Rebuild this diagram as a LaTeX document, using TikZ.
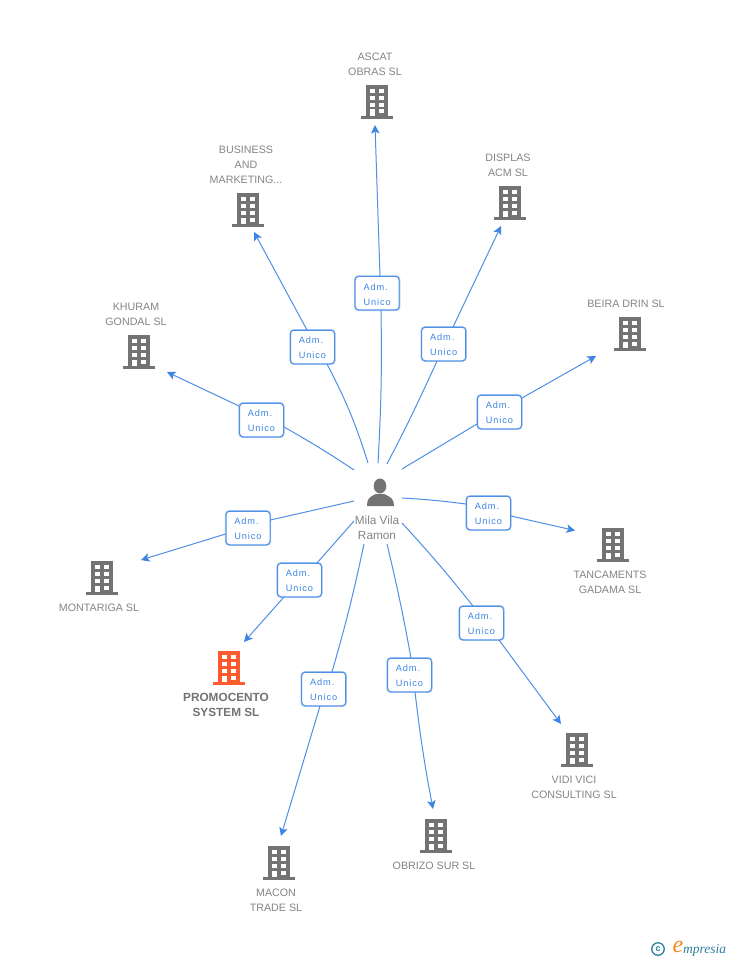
\documentclass[tikz,border=0pt]{standalone}
\usepackage{fontspec}
\setmainfont{Liberation Sans}
\newfontfamily\boxfont[LetterSpace=10]{Liberation Sans}
\newfontfamily\logofont{Liberation Serif}
\usetikzlibrary{arrows.meta}
\definecolor{linkblue}{HTML}{4F8FE6}
\definecolor{tipblue}{HTML}{3D85E3}
\definecolor{halo}{HTML}{A5C8F3}
\definecolor{bldgray}{HTML}{737373}
\definecolor{txtgray}{HTML}{858585}
\definecolor{hot}{HTML}{FF5B2E}
\definecolor{logoblue}{HTML}{2F7F9F}
\definecolor{logoorange}{HTML}{F28A1E}
\tikzset{
  link/.style={draw=linkblue,line width=1pt},
  linkarrow/.style={link,-{Stealth[length=8.5pt,width=8.5pt,inset=2pt,color=tipblue]}},
  rolebox/.style={draw=linkblue,line width=1pt,rounded corners=3.5pt,fill=white,minimum width=44pt,minimum height=33.5pt,
    inner sep=0pt,align=center,text=tipblue,font=\boxfont\fontsize{9.2}{15}\selectfont,
    preaction={draw=halo,line width=2.4pt}},
  lab/.style={text=txtgray,align=center,inner sep=0pt,font=\fontsize{10.7}{15}\selectfont},
  labhot/.style={text=bldgray,align=center,inner sep=0pt,font=\bfseries\fontsize{11.8}{15}\selectfont},
}
% building icon: name, x, y, colour
\newcommand{\Bld}[4]{%
  \begin{scope}[shift={(#2,#3)}]
    \node[coordinate] (#1) at (0,0) {};
    \fill[#4] (-11,-17) rectangle (11,14);
    \fill[#4] (-16,14) rectangle (16,17);
    \foreach \yy in {-13,-6,1}{
      \fill[white] (-7,\yy) rectangle (-2.5,\yy+4);
      \fill[white] (2,\yy) rectangle (7,\yy+4);
    }
    \fill[white] (-7,7.5) rectangle (-2.5,14);
    \fill[white] (2,7.5) rectangle (7,11.5);
  \end{scope}}
% spoke: name, start, box centre, arrow end, inner bend, where the hub line meets the box (offset), where the arrow leaves it (offset), outer bend
\newcommand{\Spoke}[8]{%
  \coordinate (s#1) at (#2);
  \coordinate (t#1) at (#4);
  \node[rolebox] (r#1) at (#3) {\raisebox{-4.3pt}[0pt][0pt]{Adm.\hspace*{3pt}}\\\raisebox{-4.3pt}[0pt][0pt]{Unico}};
  \draw[link] (s#1) to[bend left=#5] ([shift={(#6)}]r#1.center);
  \draw[linkarrow] ([shift={(#7)}]r#1.center) to[bend left=#8] (t#1);}
\begin{document}
\begin{tikzpicture}[x=1pt,y=-1pt]
\useasboundingbox[fill=white] (0,0) rectangle (728,960);

\Spoke{a}{378,463}{377.2,293.2}{375,125}{-2}{3.8,17}{2.8,-17}{0}
\Spoke{b}{368,463}{312.5,347}{254,232}{-5}{14.5,17}{-5.5,-17}{0}
\Spoke{c}{387,464}{443.7,344}{501,226}{-1.5}{-6.7,17}{9.3,-17}{0}
\Spoke{d}{354,470}{261.5,420}{167,372}{-2}{22.5,7}{-22.5,-14}{0}
\Spoke{e}{402,469}{499.5,412}{596,356}{0}{-22.5,12}{22.5,-14}{0}
\Spoke{f}{402,498}{488.5,513}{575,530.5}{2}{-22.5,-9}{22.5,3}{0}
\Spoke{g}{402,523}{481.5,623}{561,724}{2}{-8.5,-17}{17.5,17}{0}
\Spoke{h}{387,544}{409.5,675}{433,809}{1.5}{1.5,-17}{5.5,17}{-2}
\Spoke{i}{364,544}{323.7,689}{281,836}{2}{8.3,-17}{-3.7,17}{0}
\Spoke{j}{354,521}{299.5,580}{244,642}{0}{17.5,-17}{-15.5,17}{0}
\Spoke{k}{354,501}{248,528}{141,560}{0}{22.5,-8}{-22.5,6}{0}

\Bld{ba}{377}{102}{bldgray}
\Bld{bb}{248}{210}{bldgray}
\Bld{bc}{510}{203}{bldgray}
\Bld{bd}{139}{352}{bldgray}
\Bld{be}{630}{334}{bldgray}
\Bld{bf}{613}{545}{bldgray}
\Bld{bg}{577}{750}{bldgray}
\Bld{bh}{436}{836}{bldgray}
\Bld{bi}{279}{863}{bldgray}
\Bld{bj}{229}{668}{hot}
\Bld{bk}{102}{578}{bldgray}

\node[lab] (la) at (375,64) {ASCAT\\OBRAS SL};
\node[lab] (lb) at (246,164.5) {BUSINESS\\AND\\MARKETING...};
\node[lab] (lc) at (508,165) {DISPLAS\\ACM SL};
\node[lab] (ld) at (136,314) {KHURAM\\GONDAL SL};
\node[lab] (le) at (626,303.5) {BEIRA DRIN SL};
\node[lab] (lf) at (610,582) {TANCAMENTS\\GADAMA SL};
\node[lab] (lg) at (574,787) {VIDI VICI\\CONSULTING SL};
\node[lab] (lh) at (434,865.5) {OBRIZO SUR SL};
\node[lab] (li) at (276,900) {MACON\\TRADE SL};
\node[labhot] (lj) at (226,704.5) {PROMOCENTO\\SYSTEM SL};
\node[lab] (lk) at (99,607.5) {MONTARIGA SL};

% person
\node[coordinate] (hub) at (380,492) {};
\fill[bldgray] (380,486) ellipse (6.3pt and 7.5pt);
\fill[bldgray] (367,506) .. controls (367,499) and (369,497) .. (376,494)
  -- (384,494) .. controls (391,497) and (394,499) .. (394,506) -- cycle;
\node[lab,font=\fontsize{11.8}{15}\selectfont] (lhub) at (377,528) {Mila Vila\\Ramon};

% logo
\node[circle,draw=logoblue,line width=1.3pt,minimum size=12.5pt,inner sep=0pt,text=logoblue,
  font=\bfseries\fontsize{9}{9}\selectfont] (lc1) at (658,949) {c};
\node[text=logoorange,inner sep=0pt,font=\logofont\itshape\fontsize{24}{24}\selectfont] (lc2) at (678,947) {e};
\node[text=logoblue,inner sep=0pt,anchor=west,font=\logofont\itshape\fontsize{13.5}{13.5}\selectfont] (lc3) at (683,950) {mpresia};
\end{tikzpicture}
\end{document}
